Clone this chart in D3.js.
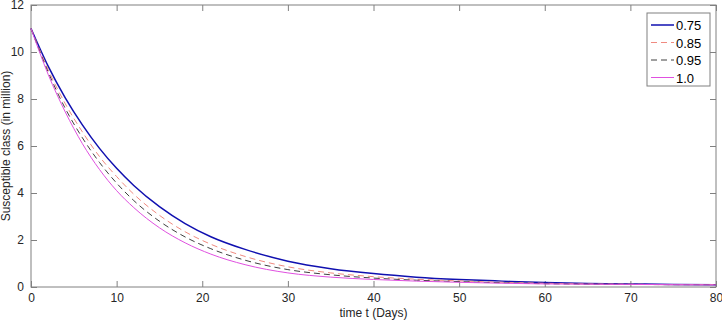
<!DOCTYPE html>
<html>
<head>
<meta charset="utf-8">
<script src="https://cdn.jsdelivr.net/npm/d3@7"></script>
<style>
  body { margin: 0; background: #fff; }
  text { font-family: "Liberation Sans", Arial, Helvetica, sans-serif; }
</style>
</head>
<body>
<div id="chart"></div>
<script>
// time points (days)
const days = [0, 2, 4, 6, 8, 10, 12, 15, 18, 21, 25, 30, 35, 40, 45, 50, 55, 60, 65, 70, 75, 80];

// susceptible class (in million) for each fractional order
const s075 = [11, 9.4, 8.05, 6.9, 5.9, 5.05, 4.32, 3.42, 2.7, 2.14, 1.6, 1.1, 0.78, 0.57, 0.42, 0.32, 0.25, 0.19, 0.15, 0.13, 0.11, 0.10];
const s085 = [11, 9.25, 7.8, 6.6, 5.55, 4.7, 3.95, 3.05, 2.35, 1.82, 1.3, 0.86, 0.6, 0.44, 0.33, 0.26, 0.2, 0.16, 0.13, 0.12, 0.1, 0.1];
const s095 = [11, 9.15, 7.6, 6.35, 5.3, 4.42, 3.68, 2.8, 2.13, 1.63, 1.14, 0.74, 0.52, 0.38, 0.29, 0.23, 0.18, 0.14, 0.12, 0.11, 0.1, 0.1];
const s100 = [11, 9.05, 7.45, 6.1, 5.0, 4.1, 3.38, 2.52, 1.88, 1.4, 0.95, 0.6, 0.42, 0.32, 0.25, 0.2, 0.16, 0.13, 0.12, 0.11, 0.1, 0.09];

const legendLabels = ["0.75", "0.85", "0.95", "1.0"];
const xTicks = [0, 10, 20, 30, 40, 50, 60, 70, 80];
const yTicks = [0, 2, 4, 6, 8, 10, 12];

const series = [
  { label: legendLabels[0], values: s075, color: "#1010b0", width: 1.5, dash: null },
  { label: legendLabels[1], values: s085, color: "#f08a80", width: 1, dash: "6,4" },
  { label: legendLabels[2], values: s095, color: "#404040", width: 1, dash: "6,4" },
  { label: legendLabels[3], values: s100, color: "#e050e0", width: 1, dash: null }
];

const W = 722, H = 321;
const margin = {top: 5, right: 6, bottom: 34, left: 31};
const width = W - margin.left - margin.right,
      height = H - margin.top - margin.bottom;

const svg = d3.select("#chart").append("svg")
    .attr("width", W)
    .attr("height", H);

const g = svg.append("g")
    .attr("transform", "translate(" + margin.left + "," + margin.top + ")");

const x = d3.scaleLinear().domain([0, 80]).range([0, width]);
const y = d3.scaleLinear().domain([0, 12]).range([height, 0]);

const axisColor = "#808080";

// axes with inward ticks on all four sides
function styleAxis(sel) {
  sel.select(".domain").remove();
  sel.selectAll(".tick line").attr("stroke", axisColor);
  sel.selectAll(".tick text")
    .attr("fill", "#262626")
    .style("font-size", "12px");
}

g.append("g")
    .attr("transform", "translate(0," + height + ")")
    .call(d3.axisBottom(x).tickValues(xTicks).tickSizeInner(-6).tickSizeOuter(0).tickPadding(6))
    .call(styleAxis);

g.append("g")
    .call(d3.axisTop(x).tickValues(xTicks).tickSizeInner(-6).tickSizeOuter(0).tickFormat(""))
    .call(styleAxis);

g.append("g")
    .call(d3.axisLeft(y).tickValues(yTicks).tickSizeInner(-6).tickSizeOuter(0).tickPadding(7))
    .call(styleAxis);

g.append("g")
    .attr("transform", "translate(" + width + ",0)")
    .call(d3.axisRight(y).tickValues(yTicks).tickSizeInner(-6).tickSizeOuter(0).tickFormat(""))
    .call(styleAxis);

// box
g.append("rect")
    .attr("width", width)
    .attr("height", height)
    .attr("fill", "none")
    .attr("stroke", axisColor)
    .attr("stroke-width", 1);

// curves
const line = d3.line()
    .x(d => x(d[0]))
    .y(d => y(d[1]))
    .curve(d3.curveMonotoneX);

series.forEach(s => {
  g.append("path")
    .datum(days.map((t, i) => [t, s.values[i]]))
    .attr("fill", "none")
    .attr("stroke", s.color)
    .attr("stroke-width", s.width)
    .attr("stroke-dasharray", s.dash)
    .attr("d", line);
});

// axis titles
svg.append("text")
    .attr("x", margin.left + width / 2)
    .attr("y", 317)
    .attr("text-anchor", "middle")
    .attr("fill", "#262626")
    .style("font-size", "12px")
    .text("time t (Days)");

svg.append("text")
    .attr("transform", "translate(10," + (margin.top + height / 2) + ") rotate(-90)")
    .attr("text-anchor", "middle")
    .attr("fill", "#262626")
    .style("font-size", "12px")
    .text("Susceptible class (in million)");

// legend
const lg = svg.append("g").attr("transform", "translate(647,13)");
lg.append("rect")
    .attr("width", 63)
    .attr("height", 73)
    .attr("fill", "#fff")
    .attr("stroke", "#808080");

series.forEach((s, i) => {
  const yy = 12 + i * 17.5;
  lg.append("line")
    .attr("x1", 4).attr("x2", 27)
    .attr("y1", yy).attr("y2", yy)
    .attr("stroke", s.color)
    .attr("stroke-width", s.width)
    .attr("stroke-dasharray", s.dash);
  lg.append("text")
    .attr("x", 29)
    .attr("y", yy + 5)
    .attr("fill", "#000")
    .style("font-size", "13px")
    .text(s.label);
});
</script>
</body>
</html>
